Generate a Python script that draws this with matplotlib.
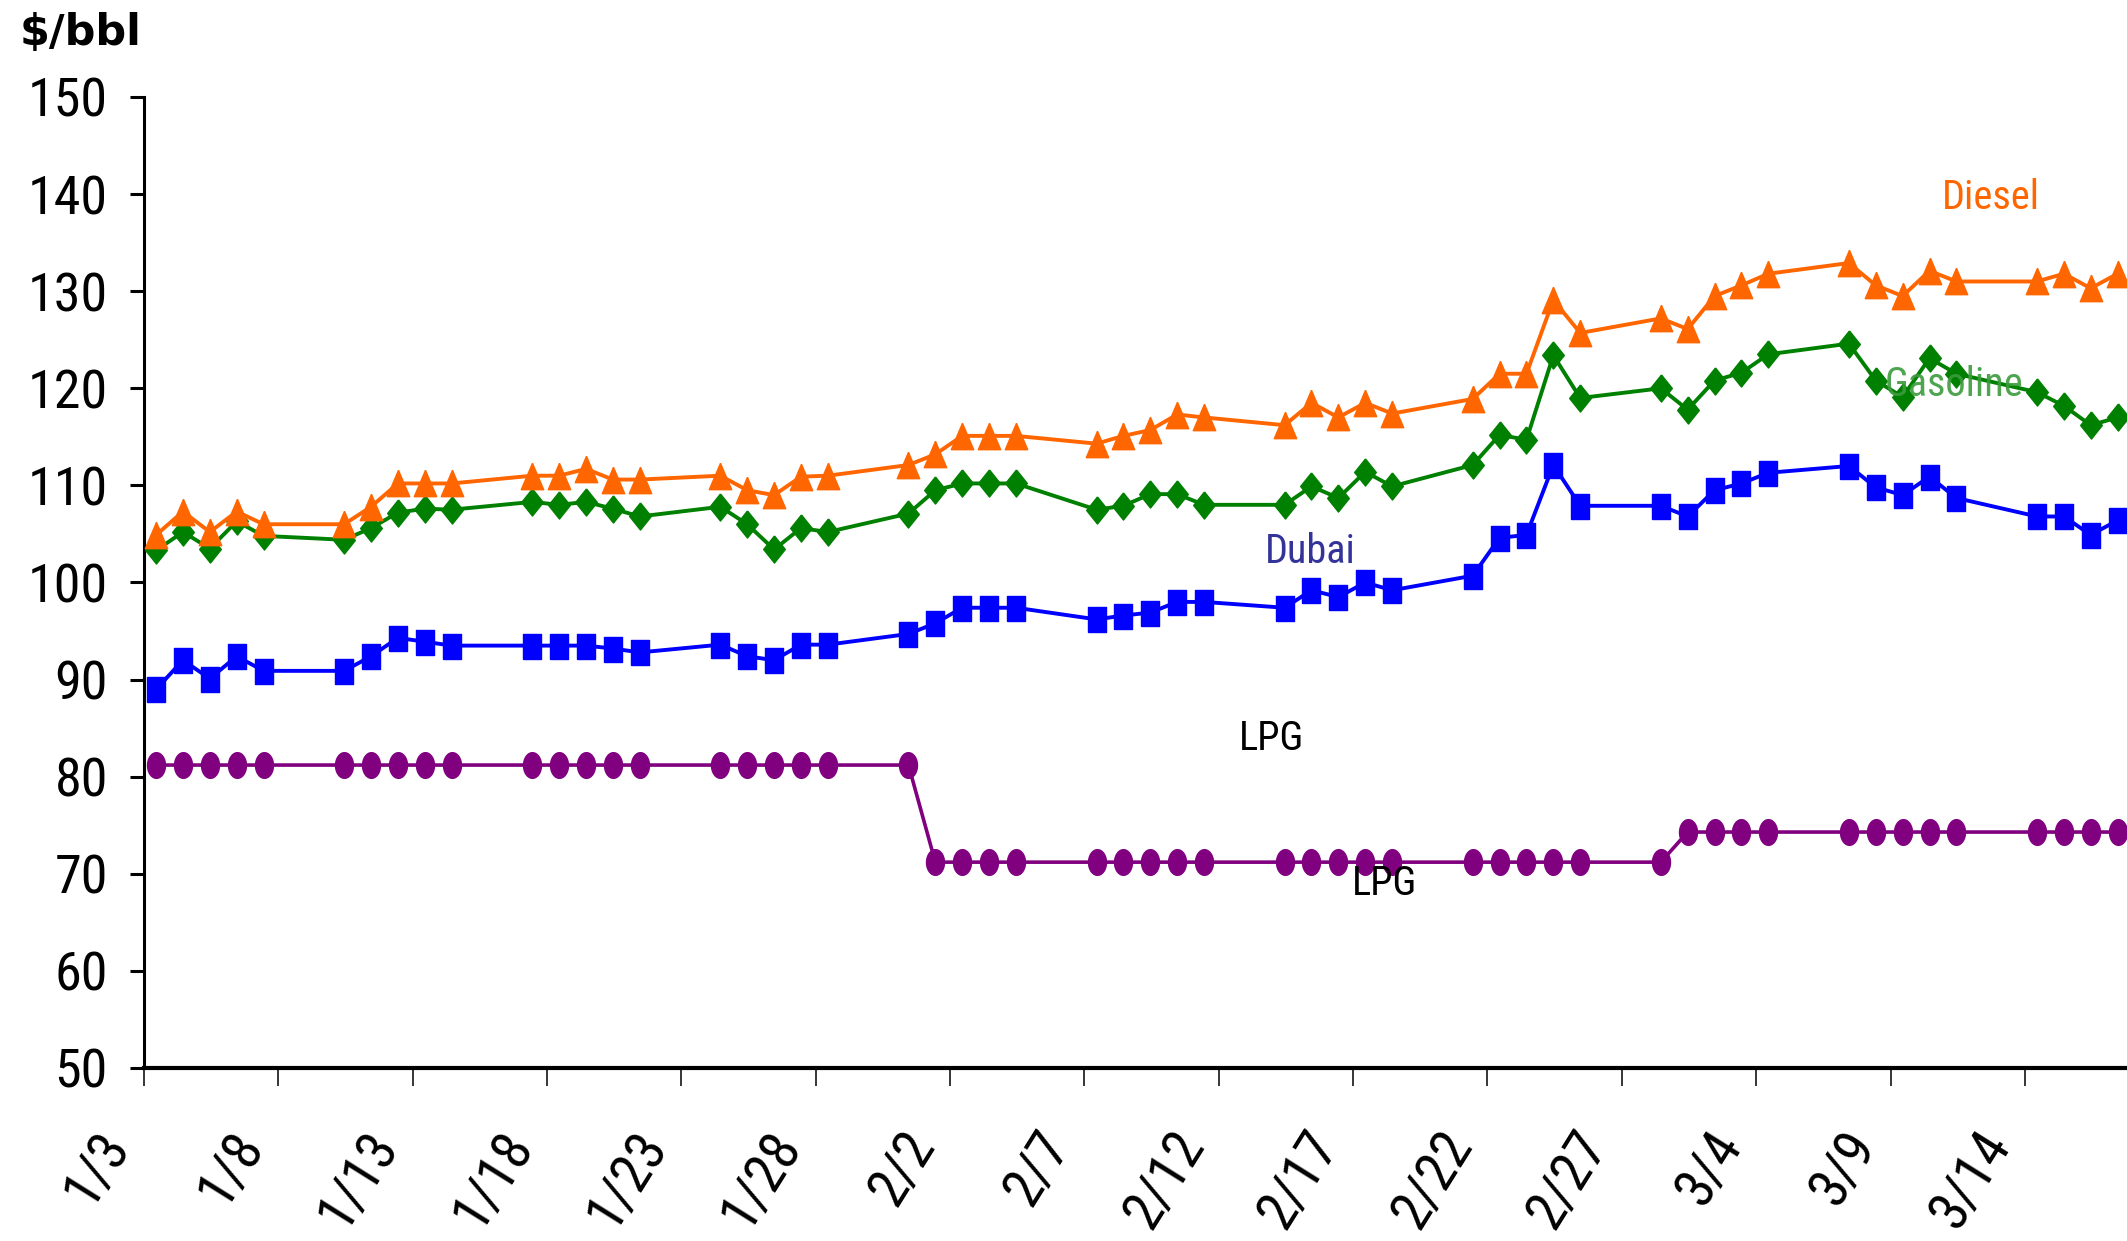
import os
import numpy as np
import pandas as pd
import matplotlib
matplotlib.use("Agg")
import matplotlib.pyplot as plt
from matplotlib import font_manager
from matplotlib.transforms import ScaledTranslation

# ---------------- data ----------------
dates = ["1/3", "1/4", "1/5", "1/6", "1/7",
         "1/10", "1/11", "1/12", "1/13", "1/14",
         "1/17", "1/18", "1/19", "1/20", "1/21",
         "1/24", "1/25", "1/26", "1/27", "1/28",
         "1/31", "2/1", "2/2", "2/3", "2/4",
         "2/7", "2/8", "2/9", "2/10", "2/11",
         "2/14", "2/15", "2/16", "2/17", "2/18",
         "2/21", "2/22", "2/23", "2/24", "2/25",
         "2/28", "3/1", "3/2", "3/3", "3/4",
         "3/7", "3/8", "3/9", "3/10", "3/11",
         "3/14", "3/15", "3/16", "3/17"]

diesel = [104.9, 107.3, 105.2, 107.3, 106.0,
          106.0, 107.8, 110.2, 110.2, 110.2,
          111.0, 111.0, 111.7, 110.6, 110.6,
          111.0, 109.5, 109.0, 110.9, 111.0,
          112.1, 113.2, 115.1, 115.1, 115.1,
          114.3, 115.1, 115.7, 117.3, 117.0,
          116.2, 118.5, 117.0, 118.5, 117.4,
          118.9, 121.5, 121.5, 129.1, 125.7,
          127.2, 126.1, 129.5, 130.6, 131.8,
          132.9, 130.6, 129.5, 132.1, 131.0,
          131.0, 131.8, 130.3, 131.8]

gasoline = [103.3, 105.2, 103.5, 106.3, 104.8,
            104.4, 105.6, 107.2, 107.6, 107.5,
            108.3, 108.0, 108.3, 107.6, 106.8,
            107.8, 106.0, 103.4, 105.6, 105.2,
            107.1, 109.5, 110.2, 110.2, 110.2,
            107.5, 107.9, 109.1, 109.1, 108.0,
            108.0, 109.9, 108.7, 111.4, 109.9,
            112.1, 115.2, 114.7, 123.4, 119.0,
            120.0, 117.8, 120.8, 121.6, 123.5,
            124.6, 120.8, 119.1, 123.1, 121.5,
            119.6, 118.2, 116.2, 117.0]

dubai = [89.0, 92.0, 90.1, 92.4, 90.9,
         90.9, 92.4, 94.3, 93.9, 93.5,
         93.5, 93.5, 93.5, 93.2, 92.8,
         93.6, 92.4, 92.0, 93.6, 93.6,
         94.7, 95.8, 97.4, 97.4, 97.4,
         96.2, 96.6, 96.9, 98.0, 98.0,
         97.4, 99.2, 98.5, 100.0, 99.2,
         100.7, 104.6, 104.9, 112.1, 107.9,
         107.9, 106.8, 109.5, 110.2, 111.3,
         112.0, 109.8, 109.0, 110.9, 108.7,
         106.8, 106.8, 104.9, 106.4]

lpg = [81.2, 81.2, 81.2, 81.2, 81.2,
       81.2, 81.2, 81.2, 81.2, 81.2,
       81.2, 81.2, 81.2, 81.2, 81.2,
       81.2, 81.2, 81.2, 81.2, 81.2,
       81.2, 71.2, 71.2, 71.2, 71.2,
       71.2, 71.2, 71.2, 71.2, 71.2,
       71.2, 71.2, 71.2, 71.2, 71.2,
       71.2, 71.2, 71.2, 71.2, 71.2,
       71.2, 74.3, 74.3, 74.3, 74.3,
       74.3, 74.3, 74.3, 74.3, 74.3,
       74.3, 74.3, 74.3, 74.3]

tick_labels = ["1/3", "1/8", "1/13", "1/18", "1/23", "1/28", "2/2", "2/7",
               "2/12", "2/17", "2/22", "2/27", "3/4", "3/9", "3/14"]
y_ticks = [50, 60, 70, 80, 90, 100, 110, 120, 130, 140, 150]

YEAR = 2022
START = pd.Timestamp(f"{YEAR}/1/3")


def day_num(s):
    return (pd.Timestamp(f"{YEAR}/{s}") - START).days


x = np.array([day_num(d) for d in dates], dtype=float)
xt = np.array([day_num(t) for t in tick_labels], dtype=float)
OFF = 0.45  # points are drawn between tick marks (Excel style)

# ---------------- fonts ----------------
ttf = font_manager.fontManager.ttflist


def find_condensed():
    prefs = ["Liberation Sans Narrow", "Roboto Condensed", "Open Sans Condensed",
             "Noto Sans Condensed", "DejaVu Sans Condensed"]
    for p in prefs:
        for f in ttf:
            base = os.path.basename(f.fname).lower()
            if (f.name == p or p.replace(" ", "").lower() in base.replace("-", "")) \
                    and f.style == "normal" and f.weight in (400, "normal", "regular"):
                return f.fname
    return None


COND = find_condensed()


def fp(size, weight="normal"):
    if COND:
        return font_manager.FontProperties(fname=COND, size=size)
    return font_manager.FontProperties(family="DejaVu Sans", size=size,
                                       weight=weight, stretch="condensed")


# ---------------- markers ----------------
tri = [(0, 1), (0.85, -1), (-0.85, -1), (0, 1)]
dia = [(0, 1), (0.8, 0), (0, -1), (-0.8, 0), (0, 1)]
sq = [(-0.75, -1), (0.75, -1), (0.75, 1), (-0.75, 1), (-0.75, -1)]
t = np.linspace(0, 2 * np.pi, 41)
ell = list(zip(0.7 * np.cos(t), np.sin(t)))

# ---------------- figure ----------------
W, H = 2127, 1241
fig = plt.figure(figsize=(W / 100, H / 100), dpi=100)
left, right, top, bottom = 144, 2127, 97, 1068
ax = fig.add_axes([left / W, 1 - bottom / H, (right - left) / W, (bottom - top) / H])

ax.plot(x, lpg, color="#800080", lw=2.6, marker=ell, ms=18.5, mec="#800080",
        mfc="#800080", zorder=3, clip_on=False)
ax.plot(x, dubai, color="#0000FF", lw=2.8, marker=sq, ms=18, mec="#0000FF",
        mfc="#0000FF", zorder=4, clip_on=False)
ax.plot(x, gasoline, color="#008000", lw=2.8, marker=dia, ms=19.5, mec="#008000",
        mfc="#008000", zorder=5, clip_on=False)
ax.plot(x, diesel, color="#FF6600", lw=2.8, marker=tri, ms=19, mec="#FF6600",
        mfc="#FF6600", zorder=6, clip_on=False)

ax.set_ylim(50, 150)
ax.set_xlim(-OFF, 73.8 - OFF)
ax.set_yticks(y_ticks)
ax.set_yticklabels([str(v) for v in y_ticks])
ax.set_xticks(xt - OFF)
ax.set_xticklabels(tick_labels)

for s in ["top", "right"]:
    ax.spines[s].set_visible(False)
ax.spines["left"].set_linewidth(2.2)
ax.spines["bottom"].set_linewidth(3.0)

ax.tick_params(axis="y", direction="out", length=10, width=2.2, pad=16)
ax.tick_params(axis="x", direction="out", length=13, width=1.1, pad=36)

for lab in ax.get_yticklabels():
    lab.set_fontproperties(fp(39))
for lab in ax.get_xticklabels():
    lab.set_fontproperties(fp(40))
    lab.set_rotation(58)
    lab.set_ha("right")
    lab.set_va("center")
    lab.set_rotation_mode("anchor")
    lab.set_transform(lab.get_transform() +
                      ScaledTranslation(-0.27, 0, fig.dpi_scale_trans))

# series labels
ax.text(68.3, 139.7, "Diesel", color="#FF6600", ha="center", va="center",
        fontproperties=fp(29), zorder=8)
ax.text(66.9, 120.4, "Gasoline", color="#3C9A3C", ha="center", va="center",
        fontproperties=fp(29), zorder=8, alpha=0.9)
ax.text(42.95, 103.2, "Dubai", color="#333399", ha="center", va="center",
        fontproperties=fp(29), zorder=8)
ax.text(41.5, 83.9, "LPG", color="black", ha="center", va="center",
        fontproperties=fp(29), zorder=8)
ax.text(45.7, 69.0, "LPG", color="black", ha="center", va="center",
        fontproperties=fp(29), zorder=8)

fig.text(20 / W, 1 - 33 / H, "$/bbl", ha="left", va="center",
         fontsize=31, fontweight="bold", family="DejaVu Sans")

fig.savefig("out.png", dpi=100)
